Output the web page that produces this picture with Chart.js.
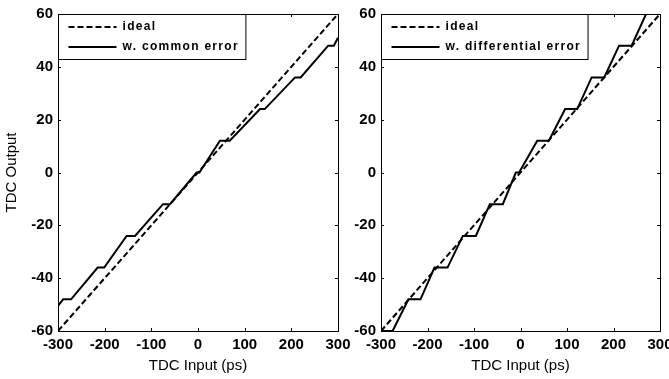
<!DOCTYPE html>
<html>
<head>
<meta charset="utf-8">
<script src="https://cdn.jsdelivr.net/npm/chart.js@4.4.1/dist/chart.umd.min.js"></script>
<style>
  html, body { margin: 0; padding: 0; background: #fff; overflow: hidden; width: 669px; height: 379px; }
  .panel { position: absolute; top: 0; }
</style>
</head>
<body>
<div class="panel" style="left:0"><canvas id="leftChart" width="360" height="379"></canvas></div>
<div class="panel" style="left:330px"><canvas id="rightChart" width="360" height="379"></canvas></div>
<script>
const xTicks = [-300, -200, -100, 0, 100, 200, 300];
const yTicks = [-60, -40, -20, 0, 20, 40, 60];

const idealX = [-300, 300];
const idealY = [-60, 60];

// left panel: common error (gain error with small flats every 12 codes)
const commonX = [-300, -289, -272, -215, -201, -153, -135, -75, -60, -3, 3, 47, 68, 133, 143, 208, 220, 279, 291, 300];
const commonY = [-50.5, -48, -48, -36, -36, -24, -24, -12, -12, 0, 0, 12, 12, 24, 24, 36, 36, 48, 48, 51];

// right panel: differential error (staircase)
const diffX = [-300, -275, -241, -215, -185, -157, -124, -96, -66, -38, -10, -3, 36, 61, 96, 122, 153, 180, 212, 239, 270, 300];
const diffY = [-60, -60, -48, -48, -36, -36, -24, -24, -12, -12, 0, 0, 12, 12, 24, 24, 36, 36, 48, 48, 60, 60];

const FONT = 'Arial, "Liberation Sans", sans-serif';

function toPoints(xs, ys) {
  return xs.map((x, i) => ({ x, y: ys[i] }));
}

// frame + inward tick marks on all four sides
const framePlugin = {
  id: 'frame',
  afterDatasetsDraw(chart) {
    const ctx = chart.ctx;
    const a = chart.chartArea;
    const xs = chart.scales.x;
    const ys = chart.scales.y;
    const len = 3;
    ctx.save();
    ctx.strokeStyle = '#000';
    ctx.lineWidth = 1;
    ctx.strokeRect(a.left + 0.5, a.top + 0.5, a.right - a.left, a.bottom - a.top);
    ctx.beginPath();
    xTicks.forEach(v => {
      const px = Math.round(xs.getPixelForValue(v)) + 0.5;
      ctx.moveTo(px, a.bottom); ctx.lineTo(px, a.bottom - len);
      ctx.moveTo(px, a.top); ctx.lineTo(px, a.top + len);
    });
    yTicks.forEach(v => {
      const py = Math.round(ys.getPixelForValue(v)) + 0.5;
      ctx.moveTo(a.left, py); ctx.lineTo(a.left + len, py);
      ctx.moveTo(a.right, py); ctx.lineTo(a.right - len, py);
    });
    ctx.stroke();
    ctx.restore();
  }
};

// boxed legend in the upper-left corner
const boxLegend = {
  id: 'boxLegend',
  afterDraw(chart) {
    const ctx = chart.ctx;
    const a = chart.chartArea;
    const sets = chart.data.datasets;
    ctx.save();
    ctx.font = 'bold 12px ' + FONT;
    ctx.letterSpacing = '1.3px';
    const textW = Math.max(...sets.map(d => ctx.measureText(d.label).width));
    const bx = a.left + 0.5;
    const by = a.top + 0.5;
    const bw = 63 + textW + 8;
    const bh = 45;
    ctx.fillStyle = '#fff';
    ctx.fillRect(bx, by, bw, bh);
    ctx.strokeStyle = '#000';
    ctx.lineWidth = 1;
    ctx.strokeRect(bx, by, bw, bh);
    const rows = [12.5, 32.5];
    sets.forEach((d, i) => {
      const y = by + rows[i];
      ctx.beginPath();
      ctx.lineWidth = 2;
      ctx.setLineDash(d.borderDash || []);
      ctx.moveTo(bx + 10, y);
      ctx.lineTo(bx + 58, y);
      ctx.stroke();
      ctx.setLineDash([]);
      ctx.fillStyle = '#000';
      ctx.textBaseline = 'middle';
      ctx.textAlign = 'left';
      ctx.fillText(d.label, bx + 64, y);
    });
    ctx.restore();
  }
};

function makeChart(id, errLabel, errX, errY, yAxisWidth, padRight, showYTitle) {
  const ctx = document.getElementById(id).getContext('2d');
  return new Chart(ctx, {
    type: 'line',
    data: {
      datasets: [
        {
          label: 'ideal',
          data: toPoints(idealX, idealY),
          borderColor: '#000',
          borderWidth: 2,
          borderDash: [6, 3],
          pointRadius: 0,
          tension: 0,
          fill: false
        },
        {
          label: errLabel,
          data: toPoints(errX, errY),
          borderColor: '#000',
          borderWidth: 2,
          pointRadius: 0,
          tension: 0,
          fill: false
        }
      ]
    },
    options: {
      responsive: false,
      animation: false,
      layout: { padding: { top: 11, right: padRight, bottom: 0, left: 0 } },
      plugins: { legend: { display: false }, tooltip: { enabled: false } },
      scales: {
        x: {
          type: 'linear',
          min: -300,
          max: 300,
          afterBuildTicks: s => { s.ticks = xTicks.map(v => ({ value: v })); },
          afterFit: s => { s.height = 48; },
          grid: { display: false, drawTicks: false },
          border: { display: false },
          ticks: { color: '#000', padding: 5, maxRotation: 0, font: { family: FONT, size: 15, weight: 'bold' } },
          title: { display: true, text: 'TDC Input (ps)', color: '#000', padding: { top: 0, bottom: 4 }, font: { family: FONT, size: 15 } }
        },
        y: {
          type: 'linear',
          min: -60,
          max: 60,
          afterBuildTicks: s => { s.ticks = yTicks.map(v => ({ value: v })); },
          afterFit: s => { s.width = yAxisWidth; },
          grid: { display: false, drawTicks: false },
          border: { display: false },
          ticks: { color: '#000', padding: 5, font: { family: FONT, size: 15, weight: 'bold' } },
          title: { display: showYTitle, text: 'TDC Output', color: '#000', padding: { top: 3, bottom: 0 }, font: { family: FONT, size: 15 } }
        }
      }
    },
    plugins: [framePlugin, boxLegend]
  });
}

makeChart('leftChart', 'w. common error', commonX, commonY, 58, 22, true);
makeChart('rightChart', 'w. differential error', diffX, diffY, 51, 30, false);
</script>
</body>
</html>
